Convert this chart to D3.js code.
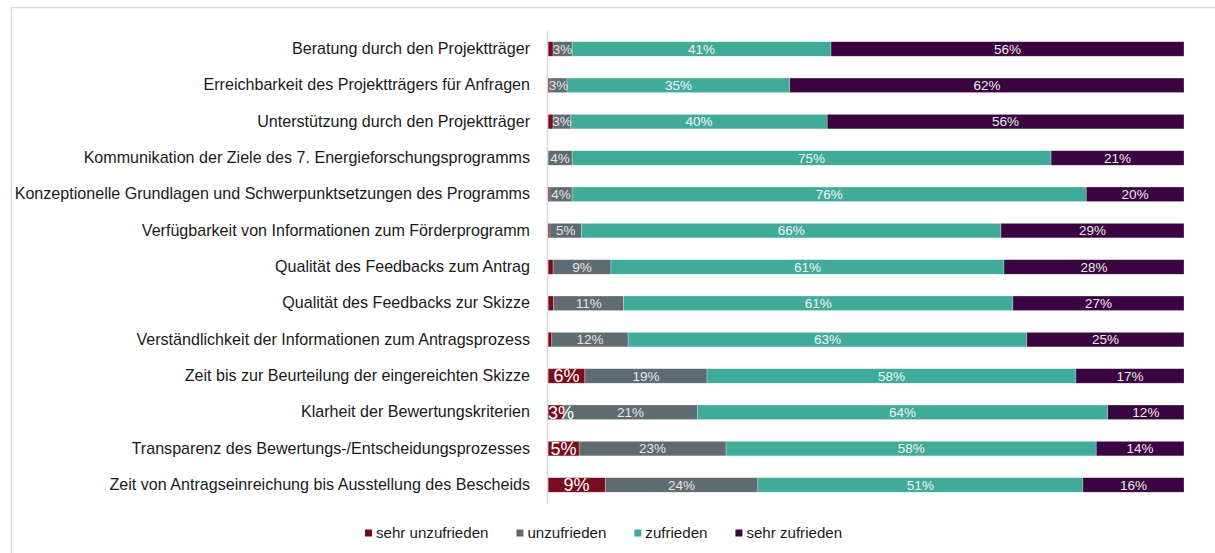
<!DOCTYPE html>
<html>
<head>
<meta charset="utf-8">
<script src="https://d3js.org/d3.v7.min.js"></script>
<style>
  body { margin: 0; background: #fff; }
  svg text { font-family: "Liberation Sans", Arial, sans-serif; }
</style>
</head>
<body>
<svg id="chart" width="1215" height="553"></svg>
<script>
// categories, top to bottom
var categories = [
  "Beratung durch den Projektträger",
  "Erreichbarkeit des Projektträgers für Anfragen",
  "Unterstützung durch den Projektträger",
  "Kommunikation der Ziele des 7. Energieforschungsprogramms",
  "Konzeptionelle Grundlagen und Schwerpunktsetzungen des Programms",
  "Verfügbarkeit von Informationen zum Förderprogramm",
  "Qualität des Feedbacks zum Antrag",
  "Qualität des Feedbacks zur Skizze",
  "Verständlichkeit der Informationen zum Antragsprozess",
  "Zeit bis zur Beurteilung der eingereichten Skizze",
  "Klarheit der Bewertungskriterien",
  "Transparenz des Bewertungs-/Entscheidungsprozesses",
  "Zeit von Antragseinreichung bis Ausstellung des Bescheids"
];

var seriesNames = ["sehr unzufrieden", "unzufrieden", "zufrieden", "sehr zufrieden"];

// segment shares
var sehrUnzufrieden = [0.8, 0.3, 0.8, 0, 0.3, 0.3, 0.8, 0.9, 0.6, 5.8, 2.5, 4.9, 9.0];
var unzufrieden     = [3.0, 2.7, 2.8, 3.8, 3.5, 5.0, 9.1, 11.0, 12.0, 19.2, 21.0, 23.1, 24.0];
var zufrieden       = [40.7, 35.1, 40.3, 75.3, 81.0, 66.0, 61.8, 61.2, 62.7, 58.0, 64.6, 58.2, 51.1];
var sehrZufrieden   = [55.5, 62.1, 56.1, 20.9, 15.4, 28.8, 28.3, 26.9, 24.7, 17.0, 12.0, 13.8, 15.9];

// value labels as printed in the chart
var labSehrUnzufrieden = ["", "", "", "", "", "", "", "", "", "6%", "3%", "5%", "9%"];
var labUnzufrieden     = ["3%", "3%", "3%", "4%", "4%", "5%", "9%", "11%", "12%", "19%", "21%", "23%", "24%"];
var labZufrieden       = ["41%", "35%", "40%", "75%", "76%", "66%", "61%", "61%", "63%", "58%", "64%", "58%", "51%"];
var labSehrZufrieden   = ["56%", "62%", "56%", "21%", "20%", "29%", "28%", "27%", "25%", "17%", "12%", "14%", "16%"];

var colors = ["#7a0a1c", "#5f6b73", "#41ab9a", "#3a0440"];
var labelColors = ["#ffffff", "#e6e6e6", "#f4f4f4", "#ececec"];
var labelSizes = [18, 13.5, 13.5, 13.5];

var seriesValues = [sehrUnzufrieden, unzufrieden, zufrieden, sehrZufrieden];
var seriesLabels = [labSehrUnzufrieden, labUnzufrieden, labZufrieden, labSehrZufrieden];

var rows = categories.map(function (c, i) {
  var r = { cat: c };
  seriesNames.forEach(function (s, k) { r[s] = seriesValues[k][i]; });
  return r;
});

var svg = d3.select("#chart");

// outer frame
svg.append("rect")
  .attr("x", 11.5).attr("y", 7.5)
  .attr("width", 1220).attr("height", 560)
  .attr("fill", "none").attr("stroke", "#d9d9d9").attr("stroke-width", 1.5);

var x = d3.scaleLinear().domain([0, 100]).range([548, 1184]);
var y = d3.scaleBand().domain(categories).range([30.8, 503.1])
  .paddingInner(0.6).paddingOuter(0.3);

var stack = d3.stack().keys(seriesNames)
  .offset(d3.stackOffsetExpand);
var stacked = stack(rows);

var layers = svg.append("g").selectAll("g")
  .data(stacked)
  .enter().append("g")
  .attr("fill", function (d, k) { return colors[k]; });

layers.selectAll("rect")
  .data(function (d) { return d; })
  .enter().append("rect")
  .attr("x", function (d) { return x(d[0] * 100); })
  .attr("y", function (d) { return y(d.data.cat); })
  .attr("width", function (d) { return x(d[1] * 100) - x(d[0] * 100); })
  .attr("height", y.bandwidth())
  .attr("stroke", "#ffffff").attr("stroke-opacity", 0.45).attr("stroke-width", 0.6);

// value labels (kept inside the plot area on the left)
stacked.forEach(function (layer, k) {
  svg.append("g").selectAll("text")
    .data(layer)
    .enter().append("text")
    .attr("y", function (d) { return y(d.data.cat) + y.bandwidth() / 2; })
    .attr("dy", "0.36em")
    .attr("text-anchor", "middle")
    .attr("font-size", labelSizes[k])
    .attr("fill", labelColors[k])
    .text(function (d, i) { return seriesLabels[k][i]; })
    .attr("x", function (d) {
      var c = (x(d[0] * 100) + x(d[1] * 100)) / 2;
      var w = this.getComputedTextLength();
      return Math.max(c, x(0) + w / 2);
    });
});

// category axis
var axis = svg.append("g")
  .attr("transform", "translate(547,0)")
  .call(d3.axisLeft(y).tickSize(0).tickPadding(17));
axis.select(".domain").attr("stroke", "#d9d9d9").attr("stroke-width", 1.5);
axis.selectAll("text")
  .attr("font-size", 16.1)
  .attr("fill", "#1a1a1a")
  .style("font-family", "'Liberation Sans', Arial, sans-serif");

// legend
var legend = svg.append("g").attr("transform", "translate(365,533)");
var lx = 0;
seriesNames.forEach(function (s, k) {
  var g = legend.append("g").attr("transform", "translate(" + lx + ",0)");
  g.append("rect").attr("x", 0).attr("y", -3.5).attr("width", 7).attr("height", 7)
    .attr("fill", colors[k]);
  var t = g.append("text").attr("x", 11).attr("y", 0).attr("dy", "0.35em")
    .attr("font-size", 15.1).attr("fill", "#1a1a1a").text(s);
  lx += 11 + t.node().getComputedTextLength() + 28;
});
</script>
</body>
</html>
